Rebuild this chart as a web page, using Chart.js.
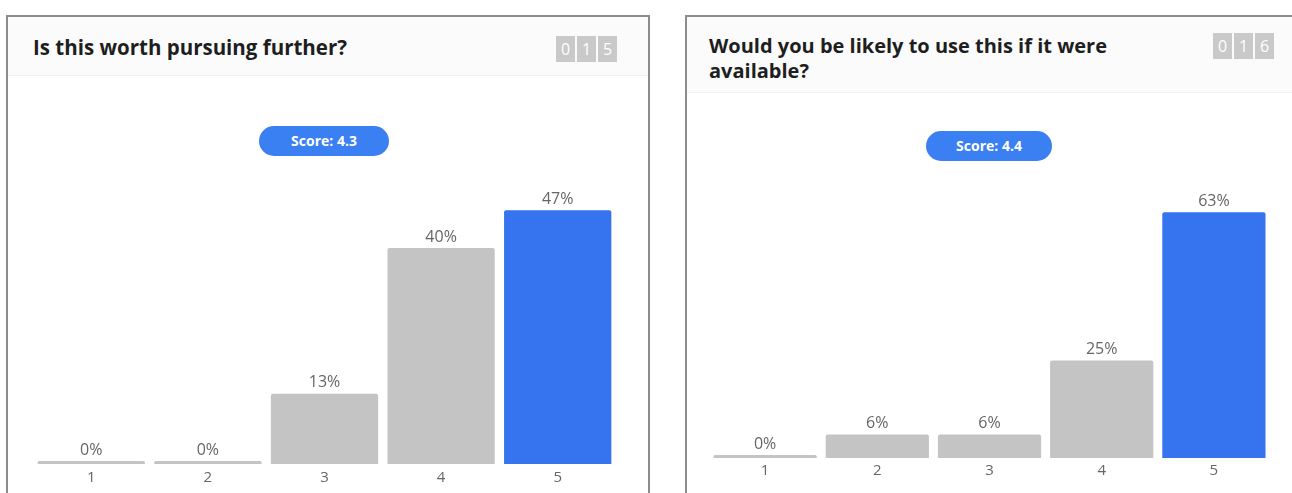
<!DOCTYPE html>
<html>
<head>
<meta charset="utf-8">
<script src="https://cdn.jsdelivr.net/npm/chart.js@4.4.0/dist/chart.umd.min.js"></script>
<style>
  body { margin: 0; width: 1292px; height: 493px; overflow: hidden; background: #fff; font-family: "Open Sans", sans-serif; }
  .panel { position: absolute; top: 15px; height: 520px; border: 2px solid #8c8c8c; background: #fff; }
  #panelWorth { left: 6px; width: 640px; }
  #panelUse { left: 685px; width: 640px; }
  .head { position: absolute; left: 0; top: 0; right: 0; background: #fbfbfb; border-bottom: 1px solid #f0f0f0; }
  .head h2 { margin: 0; position: absolute; font-size: 20px; font-weight: 700; color: #1e1e1e; line-height: 25px; }
  .count { position: absolute; display: flex; gap: 2px; }
  .count span { display: block; width: 19px; height: 26px; background: #c9c9c9; color: #fff; font-size: 16px; line-height: 26px; text-align: center; }
  .pill { position: absolute; height: 30px; border-radius: 15px; background: #3a80f2; color: #fff; font-weight: 700; font-size: 14px; line-height: 30px; text-align: center; }
  canvas { position: absolute; }
</style>
</head>
<body>
<div class="panel" id="panelWorth">
  <div class="head" style="height:58px"><h2 style="left:25px;top:18px;font-size:20.5px">Is this worth pursuing further?</h2>
    <div class="count" style="left:548px;top:19px"><span>0</span><span>1</span><span>5</span></div></div>
</div>
<div class="panel" id="panelUse">
  <div class="head" style="height:75px"><h2 style="left:22px;top:16px;width:440px">Would you be likely to use this if it were available?</h2>
    <div class="count" style="left:526px;top:16px"><span>0</span><span>1</span><span>6</span></div></div>
</div>
<div class="pill" id="pillWorth" style="left:259px;top:126px;width:130px"></div>
<div class="pill" id="pillUse" style="left:926px;top:131px;width:126px"></div>
<canvas id="worthChart" style="left:8px;top:76px" width="640" height="417"></canvas>
<canvas id="useChart" style="left:687px;top:93px" width="605" height="400"></canvas>
<script>
var categories = ['1', '2', '3', '4', '5'];
var worthValues = [0, 0, 13, 40, 47];
var useValues = [0, 6, 6, 25, 63];
var worthScore = 4.3;
var useScore = 4.4;

document.getElementById('pillWorth').textContent = 'Score: ' + worthScore;
document.getElementById('pillUse').textContent = 'Score: ' + useScore;

// percentage text above each bar
var valueLabels = {
  id: 'valueLabels',
  afterDatasetsDraw: function(chart) {
    var ctx = chart.ctx;
    var meta = chart.getDatasetMeta(0);
    ctx.save();
    ctx.font = '16px "Open Sans"';
    ctx.fillStyle = '#666';
    ctx.textAlign = 'center';
    ctx.textBaseline = 'bottom';
    meta.data.forEach(function(bar, i) {
      ctx.fillText(chart.data.datasets[0].data[i] + '%', bar.x, bar.y - 3);
    });
    ctx.restore();
  }
};

function makeChart(id, values, yMax, pad, tickPad) {
  var colors = values.map(function(v, i) { return i == values.length - 1 ? '#3574ee' : '#c4c4c4'; });
  return new Chart(document.getElementById(id), {
    type: 'bar',
    data: {
      labels: categories,
      datasets: [{
        data: values,
        backgroundColor: colors,
        borderRadius: 2,
        borderSkipped: 'bottom',
        minBarLength: 3,
        categoryPercentage: 0.92,
        barPercentage: 1
      }]
    },
    options: {
      responsive: false,
      animation: false,
      layout: { padding: pad },
      plugins: { legend: { display: false }, tooltip: { enabled: false } },
      scales: {
        x: {
          grid: { display: false, drawTicks: false },
          border: { display: false },
          ticks: { color: '#666', font: { size: 15, family: '"Open Sans"' }, padding: tickPad }
        },
        y: { display: false, min: 0, max: yMax }
      }
    },
    plugins: [valueLabels]
  });
}

makeChart('worthChart', worthValues, 60, { left: 25, right: 32, top: 64, bottom: 1 }, 5);
makeChart('useChart', useValues, 80, { left: 22, right: 22, top: 53, bottom: 9 }, 4);
</script>
</body>
</html>
